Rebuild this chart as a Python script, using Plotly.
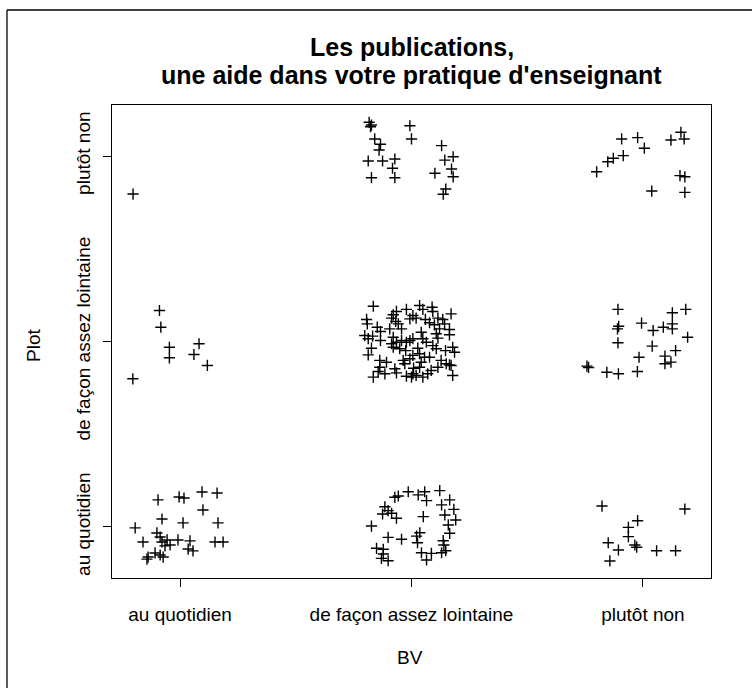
import plotly.graph_objects as go

# Category labels (both axes use the same three levels)
categories = ["au quotidien", "de façon assez lointaine", "plutôt non"]
tick_values = [1, 2, 3]

title_lines = ["Les publications,", "une aide dans votre pratique d'enseignant"]
x_title = "BV"
y_title = "Plot"

# Jittered observations, grouped by (BV level, Plot level)
# BV = au quotidien, Plot = au quotidien
bv1_plot1_x = [0.905, 0.996, 1.017, 1.095, 1.160, 0.922, 1.013, 1.099, 1.164, 0.806,
               0.900, 0.840, 0.914, 0.922, 0.944, 0.957, 0.991, 1.043, 1.035, 1.056,
               1.151, 1.186, 0.892, 0.862, 0.857, 0.914, 0.927, 0.935]
bv1_plot1_y = [1.146, 1.162, 1.156, 1.189, 1.183, 1.043, 1.022, 1.092, 1.022, 0.995,
               0.968, 0.919, 0.946, 0.919, 0.930, 0.903, 0.930, 0.925, 0.881, 0.871,
               0.919, 0.919, 0.860, 0.838, 0.827, 0.849, 0.838, 0.898]

# BV = de façon assez lointaine, Plot = au quotidien
bv2_plot1_x = [1.986, 1.943, 1.928, 2.029, 2.057, 2.065, 2.122, 2.165, 2.130, 1.885,
               1.899, 1.875, 1.914, 1.935, 2.051, 2.144, 2.183, 2.191, 1.827, 2.159,
               2.036, 2.022, 1.899, 1.957, 2.165, 2.026, 2.137, 2.140, 1.849, 1.878,
               1.878, 1.870, 1.899, 2.043, 2.086, 2.065, 2.130, 2.148]
bv2_plot1_y = [1.190, 1.167, 1.160, 1.173, 1.190, 1.142, 1.196, 1.146, 1.119, 1.109,
               1.088, 1.070, 1.074, 1.047, 1.056, 1.065, 1.095, 1.038, 1.005, 1.011,
               0.969, 0.951, 0.944, 0.934, 0.966, 0.915, 0.926, 0.903, 0.885, 0.880,
               0.854, 0.831, 0.818, 0.861, 0.858, 0.822, 0.861, 0.872]

# BV = plutôt non, Plot = au quotidien
bv3_plot1_x = [2.823, 3.181, 2.977, 2.937, 2.937, 2.850, 2.894, 2.965, 2.973, 3.059,
               3.141, 2.857]
bv3_plot1_y = [1.113, 1.097, 1.034, 0.998, 0.948, 0.915, 0.876, 0.903, 0.891, 0.872,
               0.872, 0.817]

# BV = au quotidien, Plot = de façon assez lointaine
bv1_plot2_x = [0.911, 0.917, 0.954, 0.954, 1.082, 1.060, 1.118, 0.796]
bv1_plot2_y = [2.167, 2.077, 1.969, 1.912, 1.988, 1.930, 1.871, 1.799]

# BV = de façon assez lointaine, Plot = de façon assez lointaine
bv2_plot2_x = [1.835, 1.806, 1.809, 1.852, 1.798, 1.813, 1.832, 1.866, 1.866, 1.827,
               1.813, 1.906, 1.914, 1.921, 1.935, 1.932, 1.943, 1.978, 1.993, 1.957,
               1.921, 1.914, 1.935, 1.957, 1.978, 1.993, 1.921, 1.949, 1.975, 1.863,
               1.892, 1.863, 1.856, 1.885, 1.835, 1.928, 1.935, 1.964, 1.971, 1.993,
               1.978, 2.000,
               2.035, 2.049, 2.089, 2.092, 2.006, 2.020, 2.060, 2.078, 2.099, 2.114,
               2.135, 2.171, 2.143, 2.121, 2.164, 2.164, 2.107, 2.042, 2.006, 2.049,
               2.064, 2.114, 2.092, 2.107, 2.147, 2.178, 2.186, 2.027, 2.006, 2.035,
               2.056, 2.078, 2.042, 2.128, 2.150, 2.164, 2.009, 2.035, 2.085, 2.114,
               2.006, 2.020, 2.049, 2.070, 2.178, 2.171]
bv2_plot2_y = [2.190, 2.119, 2.095, 2.077, 2.032, 2.015, 2.029, 2.054, 2.005, 1.964,
               1.928, 2.068, 2.126, 2.144, 2.162, 2.108, 2.095, 2.173, 2.122, 2.068,
               2.023, 1.988, 1.996, 2.005, 1.996, 2.005, 1.969, 1.961, 1.951, 1.898,
               1.888, 1.861, 1.838, 1.826, 1.808, 1.853, 1.831, 1.898, 1.880, 1.907,
               1.813, 1.808,
               2.194, 2.173, 2.185, 2.162, 2.140, 2.126, 2.119, 2.101, 2.090, 2.126,
               2.119, 2.149, 2.095, 2.068, 2.065, 2.036, 2.042, 2.050, 2.015, 2.015,
               1.996, 2.018, 1.978, 1.961, 1.951, 1.969, 1.942, 1.964, 1.925, 1.934,
               1.915, 1.915, 1.888, 1.898, 1.880, 1.874, 1.856, 1.861, 1.844, 1.861,
               1.826, 1.817, 1.808, 1.826, 1.817, 1.871]

# BV = plutôt non, Plot = de façon assez lointaine
bv3_plot2_x = [2.892, 3.127, 3.185, 2.895, 2.890, 2.994, 3.044, 3.088, 3.127, 3.127,
               3.193, 2.892, 3.040, 3.141, 2.983, 3.095, 3.095, 3.121, 2.758, 2.765,
               2.844, 2.894, 2.976]
bv3_plot2_y = [2.173, 2.155, 2.173, 2.082, 2.068, 2.099, 2.059, 2.077, 2.095, 2.068,
               2.023, 1.993, 1.975, 1.951, 1.915, 1.921, 1.880, 1.889, 1.867, 1.860,
               1.834, 1.826, 1.838]

# BV = au quotidien, Plot = plutôt non
bv1_plot3_x = [0.797]
bv1_plot3_y = [2.795]

# BV = de façon assez lointaine, Plot = plutôt non
bv2_plot3_x = [1.817, 1.823, 1.827, 1.993, 1.841, 1.866, 1.860, 2.000, 1.813, 1.875,
               1.928, 1.918, 1.827, 1.928, 2.130, 2.180, 2.144, 2.173, 2.180, 2.101,
               2.148, 2.137]
bv2_plot3_y = [3.182, 3.158, 3.167, 3.163, 3.092, 3.063, 3.032, 3.092, 2.973, 2.973,
               2.984, 2.934, 2.883, 2.883, 3.056, 2.996, 2.978, 2.930, 2.888, 2.907,
               2.822, 2.794]

# BV = plutôt non, Plot = plutôt non
bv3_plot3_x = [2.908, 2.977, 3.006, 3.121, 3.164, 3.178, 2.915, 2.872, 2.848, 2.800,
               3.160, 3.181, 3.038, 3.181]
bv3_plot3_y = [3.092, 3.099, 3.042, 3.086, 3.128, 3.092, 3.002, 2.988, 2.969, 2.915,
               2.894, 2.888, 2.811, 2.804]

all_x = (bv1_plot1_x + bv2_plot1_x + bv3_plot1_x + bv1_plot2_x + bv2_plot2_x +
         bv3_plot2_x + bv1_plot3_x + bv2_plot3_x + bv3_plot3_x)
all_y = (bv1_plot1_y + bv2_plot1_y + bv3_plot1_y + bv1_plot2_y + bv2_plot2_y +
         bv3_plot2_y + bv1_plot3_y + bv2_plot3_y + bv3_plot3_y)

FONT = "Liberation Sans, Arial, sans-serif"
LABEL_SIZE = 19

fig = go.Figure()
fig.add_trace(go.Scatter(
    x=all_x, y=all_y, mode="markers",
    marker=dict(symbol="cross-thin", size=8, color="black",
                line=dict(color="black", width=1.4)),
    showlegend=False, hoverinfo="x+y",
))

fig.update_layout(
    width=752, height=688,
    margin=dict(l=112, r=41, t=105, b=110),
    paper_bgcolor="white", plot_bgcolor="white",
    font=dict(family=FONT, size=LABEL_SIZE, color="black"),
    showlegend=False,
)

fig.update_xaxes(
    range=[0.706, 3.294], tickvals=tick_values, ticktext=categories,
    showgrid=False, zeroline=False, showline=True, mirror=True,
    linecolor="black", linewidth=1, ticks="outside", ticklen=8,
    tickcolor="black", ticklabelstandoff=11,
    tickfont=dict(family=FONT, size=LABEL_SIZE, color="black"),
)
fig.update_yaxes(
    range=[0.725, 3.275], tickvals=tick_values, ticktext=categories,
    showgrid=False, zeroline=False, showline=True, mirror=True,
    linecolor="black", linewidth=1, ticks="outside", ticklen=8,
    tickcolor="black", tickangle=-90, ticklabelstandoff=5,
    tickfont=dict(family=FONT, size=LABEL_SIZE, color="black"),
)

annotations = [
    dict(text="<b>" + title_lines[0] + "</b>", x=0.5, y=1.1226, xref="paper", yref="paper",
         xanchor="center", yanchor="middle", showarrow=False,
         font=dict(family=FONT, size=25, color="black")),
    dict(text="<b>" + title_lines[1] + "</b>", x=0.5, y=1.0634, xref="paper", yref="paper",
         xanchor="center", yanchor="middle", showarrow=False,
         font=dict(family=FONT, size=25, color="black")),
    dict(text=x_title, x=0.4975, y=-0.169, xref="paper", yref="paper",
         xanchor="center", yanchor="middle", showarrow=False,
         font=dict(family=FONT, size=LABEL_SIZE, color="black")),
    dict(text=y_title, x=-0.1319, y=0.4926, xref="paper", yref="paper",
         xanchor="center", yanchor="middle", showarrow=False, textangle=-90,
         font=dict(family=FONT, size=LABEL_SIZE, color="black")),
]
fig.update_layout(annotations=annotations)

# Outer device frame (left and top edges visible)
fig.add_shape(type="line", xref="paper", yref="paper",
              x0=-0.1753, y0=1.2008, x1=1.07, y1=1.2008,
              line=dict(color="black", width=1.3))
fig.add_shape(type="line", xref="paper", yref="paper",
              x0=-0.1753, y0=1.2008, x1=-0.1753, y1=-0.24,
              line=dict(color="black", width=1.3))

fig.write_html("out.html", config={"displayModeBar": False},
               post_script="document.body.style.margin='0';")
